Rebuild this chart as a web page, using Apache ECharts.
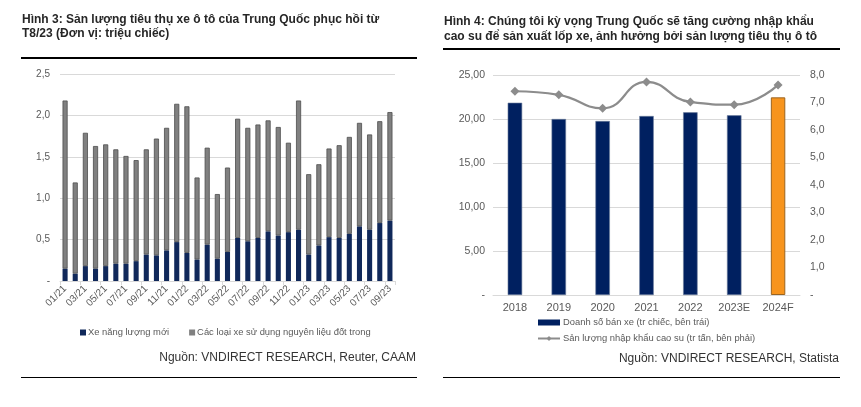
<!DOCTYPE html>
<html>
<head>
<meta charset="utf-8">
<script src="https://cdn.jsdelivr.net/npm/echarts@6/dist/echarts.min.js"></script>
<style>
html,body{margin:0;padding:0;background:#fff;}
#c{width:861px;height:407px;}
</style>
</head>
<body>
<div id="c"></div>
<script>
// ---- Chart 1 data (Hình 3) ----
var months = ['01/21','02/21','03/21','04/21','05/21','06/21','07/21','08/21','09/21','10/21','11/21','12/21',
              '01/22','02/22','03/22','04/22','05/22','06/22','07/22','08/22','09/22','10/22','11/22','12/22',
              '01/23','02/23','03/23','04/23','05/23','06/23','07/23','08/23','09/23'];
var nevSales = [0.15,0.09,0.18,0.15,0.18,0.21,0.21,0.24,0.32,0.31,0.37,0.47,
                0.34,0.26,0.44,0.27,0.35,0.52,0.48,0.52,0.60,0.55,0.59,0.62,
                0.32,0.43,0.53,0.52,0.57,0.66,0.62,0.70,0.73];
var totalSales = [2.18,1.19,1.79,1.63,1.65,1.59,1.51,1.46,1.59,1.72,1.85,2.14,
                  2.11,1.25,1.61,1.05,1.37,1.96,1.85,1.89,1.94,1.86,1.67,2.18,
                  1.29,1.41,1.60,1.64,1.74,1.91,1.77,1.93,2.04];
var iceSales = totalSales.map(function(t,i){ return +(t - nevSales[i]).toFixed(2); });

// ---- Chart 2 data (Hình 4) ----
var years = ['2018','2019','2020','2021','2022','2023E','2024F'];
var carSales = [21.85,20.00,19.77,20.34,20.76,20.42,22.46];
var rubberImports = [7.41,7.28,6.79,7.75,7.02,6.92,7.64];

var txt = '#595959';
var gridCol = '#d9d9d9';
var font = 'Liberation Sans, Arial, sans-serif';

function commaFmt(d){ return function(v){ return v === 0 ? '-' : v.toFixed(d).replace('.', ','); }; }

var chart = echarts.init(document.getElementById('c'), null, {renderer:'canvas'});
chart.setOption({
  animation:false,
  textStyle:{fontFamily:font},
  grid:[
    {left:60, top:74, width:335, height:207},
    {left:493, top:75, width:307, height:220}
  ],
  legend:[
    {left:80, top:328, padding:0, itemWidth:6, itemHeight:6, itemGap:20, icon:'rect',
     itemStyle:{borderWidth:0},
     textStyle:{color:txt, fontSize:9.4, fontFamily:font, padding:[0,0,0,-3]},
     data:['Xe năng lượng mới','Các loại xe sử dụng nguyên liệu đốt trong']},
    {left:537, top:318, padding:0, orient:'vertical', itemWidth:22, itemHeight:6, itemGap:7,
     itemStyle:{borderWidth:0},
     textStyle:{color:txt, fontSize:9.4, fontFamily:font, padding:[0,0,0,-2]},
     data:[{name:'Doanh số bán xe (tr chiếc, bên trái)', icon:'rect'},
           {name:'Sản lượng nhập khẩu cao su (tr tấn, bên phải)'}]}
  ],
  xAxis:[
    {type:'category', gridIndex:0, data:months,
     axisLine:{lineStyle:{color:gridCol}},
     axisTick:{show:true, interval:1, length:4, lineStyle:{color:gridCol}},
     axisLabel:{interval:1, rotate:45, color:txt, fontSize:10, margin:6}},
    {type:'category', gridIndex:1, data:years,
     axisLine:{lineStyle:{color:gridCol}},
     axisTick:{show:false},
     axisLabel:{color:txt, fontSize:11, margin:7}}
  ],
  yAxis:[
    {type:'value', gridIndex:0, min:0, max:2.5, interval:0.5,
     axisLine:{show:false}, axisTick:{show:false},
     splitLine:{lineStyle:{color:gridCol}},
     axisLabel:{color:txt, fontSize:10, formatter:commaFmt(1), margin:10}},
    {type:'value', gridIndex:1, min:0, max:25, interval:5,
     axisLine:{show:false}, axisTick:{show:false},
     splitLine:{lineStyle:{color:gridCol}},
     axisLabel:{color:txt, fontSize:10.5, formatter:commaFmt(2), margin:8}},
    {type:'value', gridIndex:1, position:'right', min:0, max:8, interval:1,
     axisLine:{show:false}, axisTick:{show:false}, splitLine:{show:false},
     axisLabel:{color:txt, fontSize:10.5, formatter:commaFmt(1), margin:10}}
  ],
  series:[
    {name:'Xe năng lượng mới', type:'bar', stack:'s', xAxisIndex:0, yAxisIndex:0,
     data:nevSales, barWidth:'50%',
     itemStyle:{color:'#10285a'}},
    {name:'Các loại xe sử dụng nguyên liệu đốt trong', type:'bar', stack:'s', xAxisIndex:0, yAxisIndex:0,
     data:iceSales, barWidth:'50%',
     itemStyle:{color:'#808080', borderColor:'#4d4d4d', borderWidth:0.8}},
    {name:'Doanh số bán xe (tr chiếc, bên trái)', type:'bar', xAxisIndex:1, yAxisIndex:1,
     data:carSales.map(function(v,i){
       return i === carSales.length-1
         ? {value:v, itemStyle:{color:'#f7941d', borderColor:'#9a6420', borderWidth:1}}
         : v; }),
     barWidth:'33%',
     itemStyle:{color:'#002060', borderColor:'#6b7d9c', borderWidth:0.6}},
    {name:'Sản lượng nhập khẩu cao su (tr tấn, bên phải)', type:'line', xAxisIndex:1, yAxisIndex:2,
     data:rubberImports, smooth:true, symbol:'diamond', symbolSize:9,
     lineStyle:{color:'#8c8c8c', width:2.2},
     itemStyle:{color:'#8c8c8c'}}
  ],
  graphic:[
    {type:'text', left:22, top:13, style:{text:'Hình 3: Sản lượng tiêu thụ xe ô tô của Trung Quốc phục hồi từ\nT8/23 (Đơn vị: triệu chiếc)',
      font:'bold 12px Liberation Sans, Arial, sans-serif', fill:'#262626', lineHeight:14}},
    {type:'rect', shape:{x:21, y:57, width:396, height:2}, style:{fill:'#000'}},
    {type:'text', right:861-416, top:352, style:{text:'Nguồn: VNDIRECT RESEARCH, Reuter, CAAM',
      font:'12px Liberation Sans, Arial, sans-serif', fill:'#333', align:'right'}},
    {type:'rect', shape:{x:21, y:377, width:396, height:1}, style:{fill:'#000'}},

    {type:'text', left:444, top:14, style:{text:'Hình 4: Chúng tôi kỳ vọng Trung Quốc sẽ tăng cường nhập khẩu\ncao su để sản xuất lốp xe, ảnh hưởng bởi sản lượng tiêu thụ ô tô',
      font:'bold 12px Liberation Sans, Arial, sans-serif', fill:'#262626', lineHeight:15}},
    {type:'rect', shape:{x:443, y:48, width:397, height:2}, style:{fill:'#000'}},
    {type:'text', right:861-839, top:353, style:{text:'Nguồn: VNDIRECT RESEARCH, Statista',
      font:'12px Liberation Sans, Arial, sans-serif', fill:'#333', align:'right'}},
    {type:'rect', shape:{x:443, y:377, width:397, height:1}, style:{fill:'#000'}}
  ]
});
</script>
</body>
</html>
